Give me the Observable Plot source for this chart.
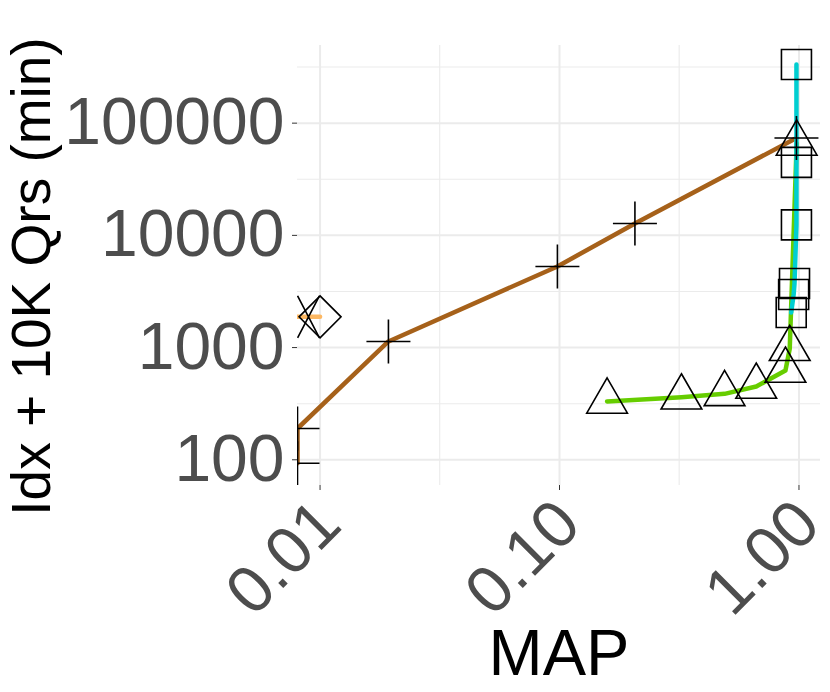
<!DOCTYPE html>
<html>
<head>
<meta charset="utf-8">
<script src="https://cdn.jsdelivr.net/npm/d3@7"></script>
<script src="https://cdn.jsdelivr.net/npm/@observablehq/plot@0.6"></script>
<style>
  html, body { margin: 0; padding: 0; background: #fff; }
</style>
</head>
<body>
<div id="chart"></div>
<script>
// ---- data ----
const xMin = 0.00805;
const xMax = 1.23;
const yMin = 59;
const yMax = 492000;

const xTicks = [0.01, 0.1, 1];
const xMinor = [0.0316, 0.316];
const yTicks = [100, 1000, 10000, 100000];
const yMinor = [316, 3162, 31623, 316228];

// brown series (plus markers)
const brownX = [0.00805, 0.00805, 0.0193, 0.098, 0.2065, 0.976];
const brownY = [93, 190, 1133, 5285, 12770, 73800];

// light orange series (x and diamond markers)
const orangeX = [0.00805, 0.0100];
const orangeY = [1880, 1880];
const crossX = [0.00895];
const crossY = [1880];
const diamondX = [0.0100];
const diamondY = [1880];

// green series (triangle markers)
const greenX = [0.158, 0.323, 0.489, 0.663, 0.878, 0.915, 0.978];
const greenY = [331, 361, 387, 450, 625, 975, 65900];

// cyan series (square markers)
const cyanX = [0.976, 0.976, 0.976, 0.958, 0.95, 0.928];
const cyanY = [333000, 44700, 12400, 3725, 2972, 2056];

// ---- helpers ----
const zip = (xs, ys) => xs.map((x, i) => ({x, y: ys[i]}));
const sz = (size) => Math.sqrt(size / Math.PI);

const symSquare = {draw(c, size) { const s = sz(size); c.rect(-s, -s, 2 * s, 2 * s); }};
const symTriangle = {draw(c, size) { const u = sz(size); const w = Math.sqrt(3) * u;
  c.moveTo(0, -2 * u); c.lineTo(w, u); c.lineTo(-w, u); c.closePath(); }};
const symPlus = {draw(c, size) { const s = sz(size);
  c.moveTo(-s, 0); c.lineTo(s, 0); c.moveTo(0, -s); c.lineTo(0, s); }};
const symDiamond = {draw(c, size) { const s = sz(size);
  c.moveTo(0, -s); c.lineTo(s, 0); c.lineTo(0, s); c.lineTo(-s, 0); c.closePath(); }};
const symTimes = {draw(c, size) { const s = sz(size); const w = 0.52 * s;
  c.moveTo(-w, -s); c.lineTo(w, s); c.moveTo(-w, s); c.lineTo(w, -s); }};

const font = "'Liberation Sans', Arial, Helvetica, sans-serif";
const grid = "#EBEBEB";
const lineW = 4.5;
const mk = {fill: "none", stroke: "black", strokeWidth: 1.6, clip: true};

const chart = Plot.plot({
  width: 830,
  height: 692,
  marginLeft: 297,
  marginRight: 10,
  marginTop: 45,
  marginBottom: 207,
  style: {fontFamily: font, background: "white"},
  x: {type: "log", domain: [xMin, xMax]},
  y: {type: "log", domain: [yMin, yMax]},
  marks: [
    Plot.gridX(xMinor, {stroke: grid, strokeOpacity: 1, strokeWidth: 1.1}),
    Plot.gridY(yMinor, {stroke: grid, strokeOpacity: 1, strokeWidth: 1.1}),
    Plot.gridX(xTicks, {stroke: grid, strokeOpacity: 1, strokeWidth: 2}),
    Plot.gridY(yTicks, {stroke: grid, strokeOpacity: 1, strokeWidth: 2}),
    Plot.axisY(yTicks, {tickFormat: d => String(d), fontSize: 66, color: "#4D4D4D", stroke: "#333333",
      tickSize: 5, tickPadding: 8, label: null}),
    // x tick marks only
    Plot.axisX(xTicks, {tickFormat: () => "", stroke: "#333333", tickSize: 5, label: null}),
    // x tick labels only
    Plot.axisX(xTicks, {tickFormat: d3.format(".2f"), fontSize: 66, color: "#4D4D4D",
      tickSize: 0, tickPadding: 27, dx: 9, tickRotate: -45, label: null}),
    Plot.line(zip(brownX, brownY), {x: "x", y: "y", stroke: "#A6611A", strokeWidth: lineW, clip: true}),
    Plot.line(zip(orangeX, orangeY), {x: "x", y: "y", stroke: "#FDB863", strokeWidth: lineW, clip: true}),
    Plot.line(zip(greenX, greenY), {x: "x", y: "y", stroke: "#66CD00", strokeWidth: lineW, clip: true}),
    Plot.line(zip(cyanX, cyanY), {x: "x", y: "y", stroke: "#00CED1", strokeWidth: lineW, clip: true}),
    Plot.dot(zip(brownX, brownY), {x: "x", y: "y", symbol: symPlus, r: 22, ...mk}),
    Plot.dot(zip(crossX, crossY), {x: "x", y: "y", symbol: symTimes, r: 21, ...mk}),
    Plot.dot(zip(diamondX, diamondY), {x: "x", y: "y", symbol: symDiamond, r: 21, ...mk}),
    Plot.dot(zip(greenX, greenY), {x: "x", y: "y", symbol: symTriangle, r: 11.75, ...mk}),
    Plot.dot(zip(cyanX, cyanY), {x: "x", y: "y", symbol: symSquare, r: 15, ...mk}),
    Plot.text(["MAP"], {frameAnchor: "bottom", dy: 189, fontSize: 65, fill: "black"}),
    Plot.text(["Idx + 10K Qrs (min)"], {frameAnchor: "left", textAnchor: "middle", rotate: -90,
      dx: -265, dy: 11, fontSize: 55, fill: "black"})
  ]
});
document.getElementById("chart").appendChild(chart);
</script>
</body>
</html>
